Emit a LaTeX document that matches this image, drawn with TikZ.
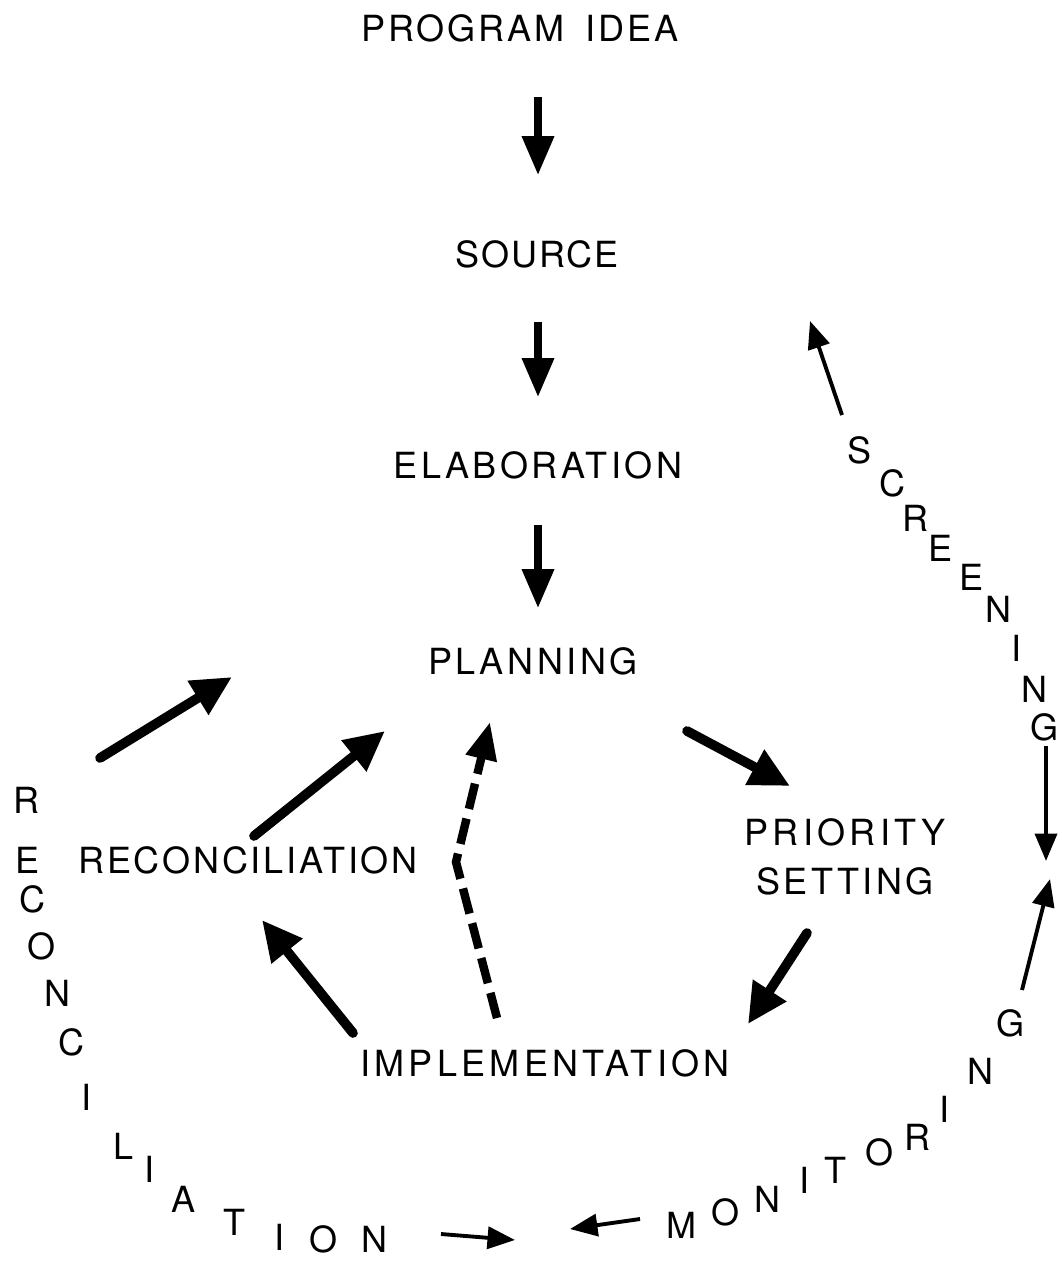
\documentclass[tikz,border=0pt]{standalone}
\usepackage{fontspec}
\setmainfont{TeX Gyre Heros}
\newfontfamily\lsA{TeX Gyre Heros}[LetterSpace=5]
\newfontfamily\lsB{TeX Gyre Heros}[LetterSpace=8]
\newfontfamily\lsC{TeX Gyre Heros}[LetterSpace=10]
\newfontfamily\lsD{TeX Gyre Heros}[LetterSpace=12]
\usetikzlibrary{arrows.meta}
\begin{document}
\begin{tikzpicture}[x=0.02cm,y=-0.02cm,
  lbl/.style={font=\fontsize{20.5}{27.5}\selectfont, inner sep=0pt, text=black},
  ch/.style={font=\fontsize{20.5}{24}\selectfont, inner sep=0pt},
  bigv/.style={line width=4pt, -{Triangle[length=0.78cm,width=0.62cm]}},
  bigd/.style={line width=5.5pt, line cap=round, -{Triangle[length=0.8cm,width=0.75cm]}},
  thin/.style={line width=2.2pt, -{Triangle[length=0.55cm,width=0.44cm]}},
  dsh/.style={line width=4.8pt, dash pattern=on 0.52cm off 0.2cm, -{Triangle[length=0.75cm,width=0.6cm]}}
]
\useasboundingbox (0,0) rectangle (1061,1263);
% main nodes
\node[lbl] (prog) at (520,28) {\lsB PROGRAM\hspace{0.6em}IDEA};
\node[lbl] (source) at (537,254) {\lsA SOURCE};
\node[lbl] (elab) at (538,465) {\lsC ELABORATION};
\node[lbl] (plan) at (533,661) {\lsC PLANNING};
\node[lbl, align=center] (prio) at (845,857) {\lsD PRIORITY\\\lsC SETTING};
\node[lbl] (impl) at (545,1063) {\lsD IMPLEMENTATION};
\node[lbl] (recon) at (248,860) {\lsB RECONCILIATION};
% arrow end points
\coordinate (a1s) at (538,97);  \coordinate (a1e) at (538,175);
\coordinate (a2s) at (538,322); \coordinate (a2e) at (538,397);
\coordinate (a3s) at (538,525); \coordinate (a3e) at (538,608);
\coordinate (a4s) at (687,731); \coordinate (a4e) at (790,786);
\coordinate (a5s) at (807,933); \coordinate (a5e) at (748,1024);
\coordinate (a6s) at (353,1033); \coordinate (a6e) at (262,920);
\coordinate (a7s) at (254,836); \coordinate (a7e) at (385,731);
\coordinate (a8s) at (100,758);  \coordinate (a8e) at (232,677);
\coordinate (ds) at (497,1018); \coordinate (dm) at (456,862); \coordinate (de) at (490,722);
\coordinate (s1s) at (842,415); \coordinate (s1e) at (810,321);
\coordinate (s2s) at (1046,746); \coordinate (s2e) at (1046,861);
\coordinate (m1s) at (1022,990); \coordinate (m1e) at (1050,879);
\coordinate (b1s) at (441,1234); \coordinate (b1e) at (515,1240);
\coordinate (b2s) at (640,1219); \coordinate (b2e) at (570,1229);
% arrows
\draw[bigv] (a1s) -- (a1e);
\draw[bigv] (a2s) -- (a2e);
\draw[bigv] (a3s) -- (a3e);
\draw[bigd] (a4s) -- (a4e);
\draw[bigd] (a5s) -- (a5e);
\draw[bigd] (a6s) -- (a6e);
\draw[bigd] (a7s) -- (a7e);
\draw[bigd] (a8s) -- (a8e);
\draw[dsh] (ds) -- (dm) -- (de);
\draw[thin] (s1s) -- (s1e);
\draw[thin] (s2s) -- (s2e);
\draw[thin] (m1s) -- (m1e);
\draw[thin] (b1s) -- (b1e);
\draw[thin] (b2s) -- (b2e);
% curved letters
\foreach \l/\x/\y [count=\i] in {R/27/800, E/28/860, C/33/899, O/42/946, N/58/993, C/72/1042, I/87/1097, L/124/1146, I/150/1169, A/184/1199, T/234/1222, I/280/1237, O/324/1239, N/374/1239}
  \node[ch] (rc\i) at (\x,\y) {\l};
\foreach \l/\x/\y [count=\i] in {M/681/1225, O/725/1212, N/767/1199, I/804/1180, T/835/1170, O/879/1152, R/917/1137, I/944/1109, N/980/1071, G/1010/1023}
  \node[ch] (mo\i) at (\x,\y) {\l};
\foreach \l/\x/\y [count=\i] in {S/859/450, C/892/483, R/915/518, E/940/548, E/971/577, N/998/609, I/1016/648, N/1034/689, G/1044/727}
  \node[ch] (sc\i) at (\x,\y) {\l};
\end{tikzpicture}
\end{document}
